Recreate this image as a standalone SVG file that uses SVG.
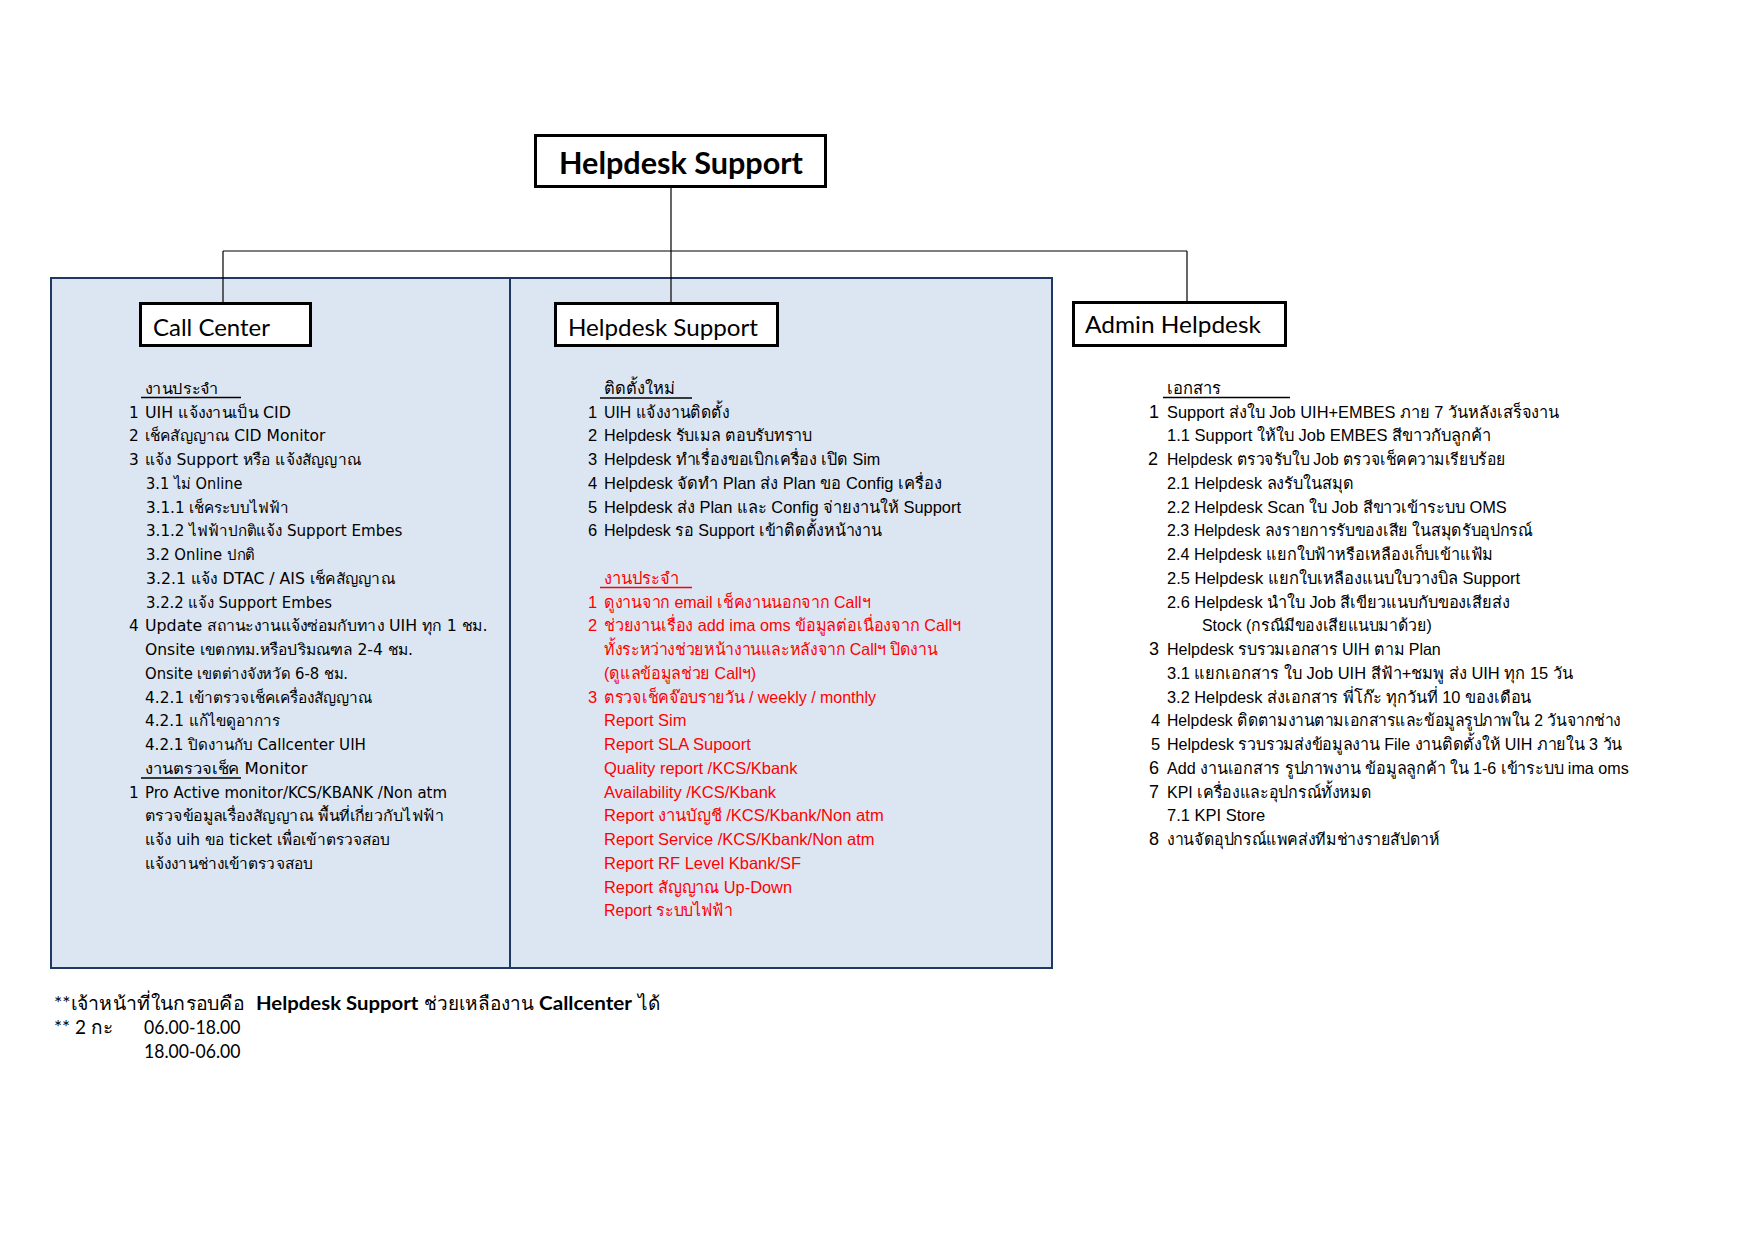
<svg xmlns="http://www.w3.org/2000/svg" width="1754" height="1240" viewBox="0 0 1754 1240">
<style>
.bg{fill:#ffffff}
.panel{fill:#DCE6F2;stroke:#1F3864;stroke-width:2}
.div{stroke:#1F3864;stroke-width:2}
.conn{stroke:#000;stroke-width:1.2;fill:none}
.box{fill:#fff;stroke:#000;stroke-width:3}
.lbl{font-family:Lato,"Open Sans","Liberation Sans",sans-serif;fill:#000}
.cc{font-family:"DejaVu Sans","Liberation Sans",sans-serif;font-size:15.3px;fill:#000}
.hd{font-family:"Liberation Sans",Arial,sans-serif;font-size:16.5px;fill:#000}
.red{fill:#FF0000}
.big{font-size:18px}
.ul{stroke:#000;stroke-width:1.6}
.ulr{stroke:#FF0000;stroke-width:1.6}
.ft{font-family:Lato,"Liberation Sans",sans-serif;font-size:19px;fill:#000}
.b{font-weight:bold}
</style>
<rect class="bg" x="0" y="0" width="1754" height="1240"/>
<g id="panel">
<rect class="panel" x="51" y="278" width="1001" height="690"/>
<line class="div" x1="510" y1="278" x2="510" y2="968"/>
</g>
<g id="connectors">
<line class="conn" x1="671" y1="188" x2="671" y2="302"/>
<line class="conn" x1="223" y1="251" x2="1187" y2="251"/>
<line class="conn" x1="223" y1="251" x2="223" y2="302"/>
<line class="conn" x1="1187" y1="251" x2="1187" y2="301"/>
</g>
<g id="node-top">
<rect class="box" x="535.5" y="135.5" width="290" height="51"/>
<text class="lbl b" x="559" y="174" font-size="31" textLength="244" lengthAdjust="spacingAndGlyphs">Helpdesk Support</text>
</g>
<g id="node-callcenter">
<rect class="box" x="140.5" y="303.5" width="170" height="42"/>
<text class="lbl" x="153" y="336" font-size="24" textLength="117" lengthAdjust="spacingAndGlyphs">Call Center</text>
<g class="cc">
<text x="145" y="393.5" textLength="74" lengthAdjust="spacingAndGlyphs">งานประจำ</text>
<line class="ul" x1="141" y1="397.5" x2="241" y2="397.5"/>
<text x="129" y="417.5">1</text><text x="145" y="417.5" textLength="146" lengthAdjust="spacingAndGlyphs">UIH แจ้งงานเป็น CID</text>
<text x="129" y="441">2</text><text x="145" y="441" textLength="180.5" lengthAdjust="spacingAndGlyphs">เช็คสัญญาณ CID Monitor</text>
<text x="129" y="465">3</text><text x="145" y="465" textLength="216" lengthAdjust="spacingAndGlyphs">แจ้ง Support หรือ แจ้งสัญญาณ</text>
<text x="146" y="488.5" textLength="96.5" lengthAdjust="spacingAndGlyphs">3.1 ไม่ Online</text>
<text x="146" y="512.5" textLength="142.5" lengthAdjust="spacingAndGlyphs">3.1.1 เช็คระบบไฟฟ้า</text>
<text x="146" y="536" textLength="256.5" lengthAdjust="spacingAndGlyphs">3.1.2 ไฟฟ้าปกติแจ้ง Support Embes</text>
<text x="146" y="560" textLength="109" lengthAdjust="spacingAndGlyphs">3.2 Online ปกติ</text>
<text x="146" y="583.5" textLength="249" lengthAdjust="spacingAndGlyphs">3.2.1 แจ้ง DTAC / AIS เช็คสัญญาณ</text>
<text x="146" y="607.5" textLength="186" lengthAdjust="spacingAndGlyphs">3.2.2 แจ้ง Support Embes</text>
<text x="129" y="631">4</text><text x="145" y="631" textLength="342.5" lengthAdjust="spacingAndGlyphs">Update สถานะงานแจ้งซ่อมกับทาง UIH ทุก 1 ชม.</text>
<text x="145" y="655" textLength="268" lengthAdjust="spacingAndGlyphs">Onsite เขตกทม.หรือปริมณฑล 2-4 ชม.</text>
<text x="145" y="678.5" textLength="203" lengthAdjust="spacingAndGlyphs">Onsite เขตต่างจังหวัด 6-8 ชม.</text>
<text x="145" y="702.5" textLength="227.5" lengthAdjust="spacingAndGlyphs">4.2.1 เข้าตรวจเช็คเครื่องสัญญาณ</text>
<text x="145" y="726" textLength="134.5" lengthAdjust="spacingAndGlyphs">4.2.1 แก้ไขดูอาการ</text>
<text x="145" y="750" textLength="221" lengthAdjust="spacingAndGlyphs">4.2.1 ปิดงานกับ Callcenter UIH</text>
<text x="145" y="773.5" textLength="162.5" lengthAdjust="spacingAndGlyphs">งานตรวจเช็ค Monitor</text>
<line class="ul" x1="141" y1="778" x2="241" y2="778"/>
<text x="129" y="797.5">1</text><text x="145" y="797.5" textLength="302" lengthAdjust="spacingAndGlyphs">Pro Active monitor/KCS/KBANK /Non atm</text>
<text x="145" y="821" textLength="299" lengthAdjust="spacingAndGlyphs">ตรวจข้อมูลเรื่องสัญญาณ พื้นที่เกี่ยวกับไฟฟ้า</text>
<text x="145" y="845" textLength="245.5" lengthAdjust="spacingAndGlyphs">แจ้ง uih ขอ ticket เพื่อเข้าตรวจสอบ</text>
<text x="145" y="868.5" textLength="168" lengthAdjust="spacingAndGlyphs">แจ้งงานช่างเข้าตรวจสอบ</text>
</g>
</g>
<g id="node-helpdesk">
<rect class="box" x="555.5" y="303.5" width="222" height="42"/>
<text class="lbl" x="568" y="336" font-size="24" textLength="190" lengthAdjust="spacingAndGlyphs">Helpdesk Support</text>
<g class="hd">
<text x="604" y="393.5">ติดตั้งใหม่</text>
<line class="ul" x1="600" y1="398" x2="692" y2="398"/>
<text x="588" y="417.5">1</text><text x="604" y="417.5" textLength="125.3" lengthAdjust="spacingAndGlyphs">UIH แจ้งงานติดตั้ง</text>
<text x="588" y="441">2</text><text x="604" y="441" textLength="208" lengthAdjust="spacingAndGlyphs">Helpdesk รับเมล ตอบรับทราบ</text>
<text x="588" y="465">3</text><text x="604" y="465" textLength="276.3" lengthAdjust="spacingAndGlyphs">Helpdesk ทำเรื่องขอเบิกเครื่อง เปิด Sim</text>
<text x="588" y="488.5">4</text><text x="604" y="488.5" textLength="338" lengthAdjust="spacingAndGlyphs">Helpdesk จัดทำ Plan ส่ง Plan ขอ Config เครื่อง</text>
<text x="588" y="512.5">5</text><text x="604" y="512.5" textLength="357" lengthAdjust="spacingAndGlyphs">Helpdesk ส่ง Plan และ Config จ่ายงานให้ Support</text>
<text x="588" y="536">6</text><text x="604" y="536" textLength="277.5" lengthAdjust="spacingAndGlyphs">Helpdesk รอ Support เข้าติดตั้งหน้างาน</text>
<g class="red">
<text x="604" y="583.5">งานประจำ</text>
<line class="ulr" x1="600" y1="587.5" x2="692" y2="587.5"/>
<text x="588" y="607.5">1</text><text x="604" y="607.5" textLength="266.3" lengthAdjust="spacingAndGlyphs">ดูงานจาก email เช็คงานนอกจาก Callฯ</text>
<text x="588" y="631">2</text><text x="604" y="631" textLength="357" lengthAdjust="spacingAndGlyphs">ช่วยงานเรื่อง add ima oms ข้อมูลต่อเนื่องจาก Callฯ</text>
<text x="604" y="655" textLength="333.4" lengthAdjust="spacingAndGlyphs">ทั้งระหว่างช่วยหน้างานและหลังจาก Callฯ ปิดงาน</text>
<text x="604" y="678.5" textLength="152.2" lengthAdjust="spacingAndGlyphs">(ดูแลข้อมูลช่วย Callฯ)</text>
<text x="588" y="702.5">3</text><text x="604" y="702.5" textLength="272" lengthAdjust="spacingAndGlyphs">ตรวจเช็คจ๊อบรายวัน / weekly / monthly</text>
<text x="604" y="726">Report Sim</text>
<text x="604" y="750">Report SLA Supoort</text>
<text x="604" y="773.5">Quality report /KCS/Kbank</text>
<text x="604" y="797.5">Availability /KCS/Kbank</text>
<text x="604" y="821" textLength="279.7" lengthAdjust="spacingAndGlyphs">Report งานบัญชี /KCS/Kbank/Non atm</text>
<text x="604" y="845">Report Service /KCS/Kbank/Non atm</text>
<text x="604" y="868.5">Report RF Level Kbank/SF</text>
<text x="604" y="892.5" textLength="188" lengthAdjust="spacingAndGlyphs">Report สัญญาณ Up-Down</text>
<text x="604" y="916" textLength="128.7" lengthAdjust="spacingAndGlyphs">Report ระบบไฟฟ้า</text>
</g>
</g>
</g>
<g id="node-admin">
<rect class="box" x="1073.5" y="302.5" width="212" height="43"/>
<text class="lbl" x="1085" y="333" font-size="24" textLength="176" lengthAdjust="spacingAndGlyphs">Admin Helpdesk</text>
<g class="hd">
<text x="1167" y="393.5">เอกสาร</text>
<line class="ul" x1="1163" y1="397.5" x2="1290" y2="397.5"/>
<text class="big" x="1149" y="417.5">1</text><text x="1167" y="417.5" textLength="392.3" lengthAdjust="spacingAndGlyphs">Support ส่งใบ Job UIH+EMBES ภาย 7 วันหลังเสร็จงาน</text>
<text x="1167" y="441" textLength="324.1" lengthAdjust="spacingAndGlyphs">1.1 Support ให้ใบ Job EMBES สีขาวกับลูกค้า</text>
<text class="big" x="1148" y="465">2</text><text x="1167" y="465" textLength="338.6" lengthAdjust="spacingAndGlyphs">Helpdesk ตรวจรับใบ Job ตรวจเช็คความเรียบร้อย</text>
<text x="1167" y="488.5" textLength="186.5" lengthAdjust="spacingAndGlyphs">2.1 Helpdesk ลงรับในสมุด</text>
<text x="1167" y="512.5" textLength="339.8" lengthAdjust="spacingAndGlyphs">2.2 Helpdesk Scan ใบ Job สีขาวเข้าระบบ OMS</text>
<text x="1167" y="536" textLength="365.5" lengthAdjust="spacingAndGlyphs">2.3 Helpdesk ลงรายการรับของเสีย ในสมุดรับอุปกรณ์</text>
<text x="1167" y="560" textLength="326.3" lengthAdjust="spacingAndGlyphs">2.4 Helpdesk แยกใบฟ้าหรือเหลืองเก็บเข้าแฟ้ม</text>
<text x="1167" y="583.5" textLength="353.2" lengthAdjust="spacingAndGlyphs">2.5 Helpdesk แยกใบเหลืองแนบใบวางบิล Support</text>
<text x="1167" y="607.5" textLength="343.1" lengthAdjust="spacingAndGlyphs">2.6 Helpdesk นำใบ Job สีเขียวแนบกับของเสียส่ง</text>
<text x="1202" y="631" textLength="229.8" lengthAdjust="spacingAndGlyphs">Stock (กรณีมีของเสียแนบมาด้วย)</text>
<text class="big" x="1149" y="655">3</text><text x="1167" y="655" textLength="273.8" lengthAdjust="spacingAndGlyphs">Helpdesk รบรวมเอกสาร UIH ตาม Plan</text>
<text x="1167" y="678.5" textLength="405.8" lengthAdjust="spacingAndGlyphs">3.1 แยกเอกสาร ใบ Job UIH สีฟ้า+ชมพู ส่ง UIH ทุก 15 วัน</text>
<text x="1167" y="702.5" textLength="364.4" lengthAdjust="spacingAndGlyphs">3.2 Helpdesk ส่งเอกสาร พี่โก๊ะ ทุกวันที่ 10 ของเดือน</text>
<text x="1151" y="726">4</text><text x="1167" y="726" textLength="453.9" lengthAdjust="spacingAndGlyphs">Helpdesk ติดตามงานตามเอกสารและข้อมูลรูปภาพใน 2 วันจากช่าง</text>
<text x="1151" y="750">5</text><text x="1167" y="750" textLength="455" lengthAdjust="spacingAndGlyphs">Helpdesk รวบรวมส่งข้อมูลงาน File งานติดตั้งให้ UIH ภายใน 3 วัน</text>
<text class="big" x="1149" y="773.5">6</text><text x="1167" y="773.5" textLength="461.7" lengthAdjust="spacingAndGlyphs">Add งานเอกสาร รูปภาพงาน ข้อมูลลูกค้า ใน 1-6 เข้าระบบ ima oms</text>
<text class="big" x="1149" y="797.5">7</text><text x="1167" y="797.5" textLength="204.4" lengthAdjust="spacingAndGlyphs">KPI เครื่องและอุปกรณ์ทั้งหมด</text>
<text x="1167" y="821">7.1 KPI Store</text>
<text class="big" x="1149" y="845">8</text><text x="1167" y="845" textLength="272.6" lengthAdjust="spacingAndGlyphs">งานจัดอุปกรณ์แพคส่งทีมช่างรายสัปดาห์</text>
</g>
</g>
<g id="footer" class="ft">
<text x="54" y="1010" textLength="190" lengthAdjust="spacingAndGlyphs">**เจ้าหน้าที่ในกรอบคือ</text>
<text class="b" x="256" y="1010" textLength="162.4" lengthAdjust="spacingAndGlyphs">Helpdesk Support</text>
<text x="424" y="1010" textLength="109.6" lengthAdjust="spacingAndGlyphs">ช่วยเหลืองาน</text>
<text class="b" x="539" y="1010" textLength="93" lengthAdjust="spacingAndGlyphs">Callcenter</text>
<text x="638" y="1010">ได้</text>
<text x="54" y="1034">** 2 กะ</text>
<text x="144" y="1034" textLength="96.5" lengthAdjust="spacingAndGlyphs">06.00-18.00</text>
<text x="144" y="1057.5" textLength="96.5" lengthAdjust="spacingAndGlyphs">18.00-06.00</text>
</g>
</svg>
